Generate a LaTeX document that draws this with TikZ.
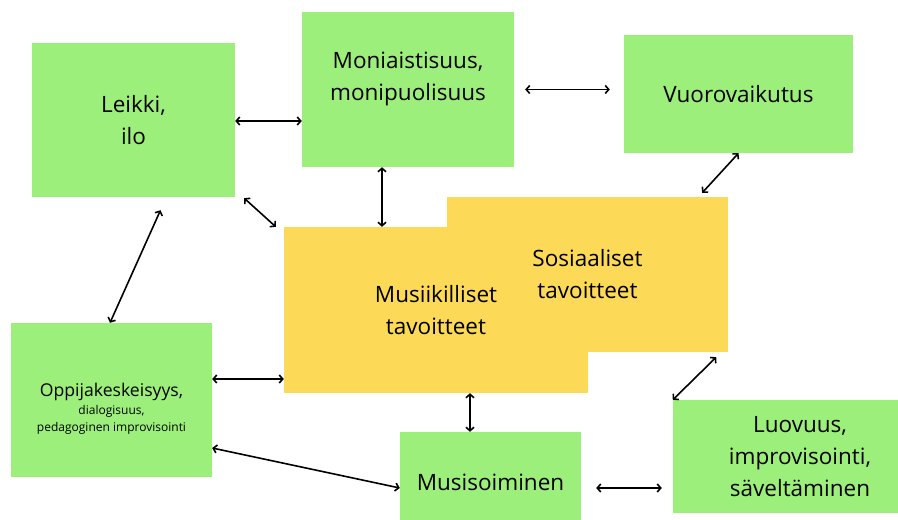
\documentclass[tikz,border=0pt]{standalone}
\usepackage{fontspec}
\setmainfont{Open Sans}
\usepackage{tikz}
\usetikzlibrary{arrows.meta}
\definecolor{boxgreen}{RGB}{157,239,123}
\definecolor{boxyellow}{RGB}{253,217,88}
\tikzset{
    greenbox/.style={rectangle, fill=boxgreen, align=center, inner sep=0pt, font=\fontsize{22.5}{32}\selectfont},
    yellowbox/.style={rectangle, fill=boxyellow, align=center, inner sep=0pt, font=\fontsize{22.5}{32}\selectfont},
    conn/.style={line width=1.6pt, {Straight Barb[length=3.5pt,width=8pt]}-{Straight Barb[length=3.5pt,width=8pt]}},
}
\begin{document}
\begin{tikzpicture}[x=1pt, y=-1pt]

            \useasboundingbox (0,0) rectangle (898,520);

            % Goals (yellow, the back one first, its text on top)
            \node[yellowbox, minimum width=281, minimum height=155] (sosiaal) at (587.5,274.5) {};
            \node[yellowbox, minimum width=304, minimum height=166] (musiik) at (436,310) {Musiikilliset\\tavoitteet};
            \node[yellowbox, fill=none] (sosiaaltext) at (sosiaal) {Sosiaaliset\\tavoitteet};

            % Themes (green)
            \node[greenbox, minimum width=203, minimum height=154] (leikki) at (133.5,120) {Leikki,\\ilo};
            \node[greenbox, minimum width=212, minimum height=155, text depth=27pt] (moni) at (408,89.5) {Moniaistisuus,\\monipuolisuus};
            \node[greenbox, minimum width=229, minimum height=118] (vuoro) at (738.5,94) {Vuorovaikutus};
            \node[greenbox, minimum width=201, minimum height=154, text height=66pt, font=\fontsize{12}{17.5}\selectfont] (oppija) at (111.5,400) {{\fontsize{17.6}{21}\selectfont Oppijakeskeisyys,}\\dialogisuus,\\pedagoginen improvisointi};
            \node[greenbox, minimum width=181, minimum height=100] (musis) at (490.5,482) {Musisoiminen};
            \node[greenbox, minimum width=254, minimum height=113] (luovuus) at (800,456.5) {Luovuus,\\improvisointi,\\säveltäminen};

            % Relationships
            \draw[conn] (leikki.east |- 0,121) -- (moni.west |- 0,121);
            \draw[conn] ([shift={(11,0)}]moni.east) -- ([shift={(-14,0)}]moni.east -| vuoro.west);
            \draw[conn] ([shift={(9,1)}]leikki.south east) -- ([shift={(-8,0)}]musiik.north west);
            \draw[conn] ([shift={(-26,0)}]moni.south) -- ([shift={(-54,0)}]musiik.north);
            \draw[conn] (vuoro.south) -- ([shift={(-26,-4)}]sosiaal.north east);
            \draw[conn] ([shift={(27,13)}]leikki.south) -- ([shift={(-1.5,0)}]oppija.north);
            \draw[conn] ([shift={(0,-21)}]oppija.east) -- ([shift={(0,69)}]musiik.west);
            \draw[conn] ([shift={(0,48)}]oppija.east) -- ([shift={(0,6)}]musis.west);
            \draw[conn] ([shift={(34,0)}]musiik.south) -- ([shift={(-20.5,0)}]musis.north);
            \draw[conn] ([shift={(15,6)}]musis.east) -- ([shift={(-11,31.5)}]luovuus.west);
            \draw[conn] ([shift={(-12,5)}]sosiaal.south east) -- (luovuus.north west);

        \end{tikzpicture}
\end{document}
